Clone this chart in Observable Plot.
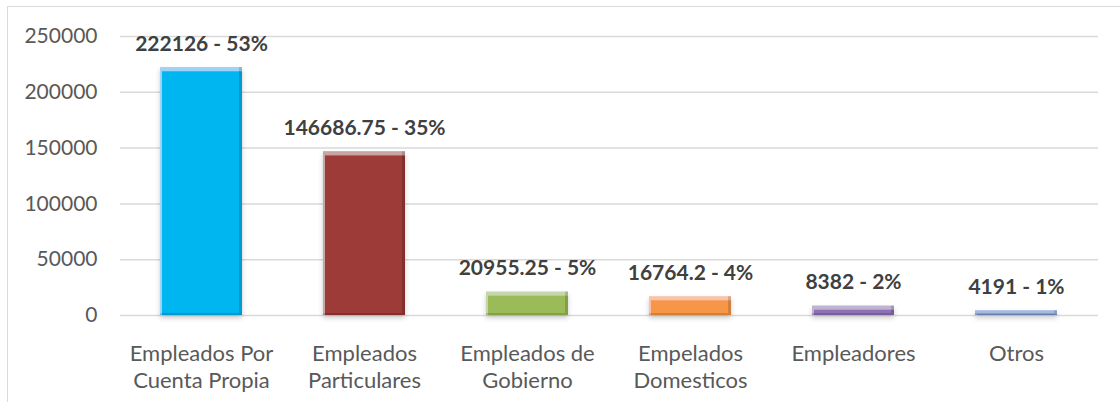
<!DOCTYPE html>
<html><head><meta charset="utf-8">
<script src="https://cdn.jsdelivr.net/npm/d3@7"></script>
<script src="https://cdn.jsdelivr.net/npm/@observablehq/plot@0.6"></script>
<style>
body{margin:0;background:#fff;}
#wrap{position:relative;width:1120px;height:402px;overflow:hidden;}
#frame{position:absolute;left:7px;top:6px;width:1200px;height:500px;border:1.5px solid #d9d9d9;box-sizing:border-box;}
#chart{position:absolute;left:0;top:0;}
</style></head><body>
<div id="wrap"><div id="frame"></div><div id="chart"></div></div>
<script>
const categories = ["Empleados Por\nCuenta Propia","Empleados\nParticulares","Empleados de\nGobierno","Empelados\nDomesticos","Empleadores","Otros"];
const values = [222126, 146686.75, 20955.25, 16764.2, 8382, 4191];
const percents = [53, 35, 5, 4, 2, 1];
const colors = ["#05B6F0", "#9C3B39", "#9BBB59", "#F79646", "#8E70B4", "#4A7EC8"];
const yTicks = [0, 50000, 100000, 150000, 200000, 250000];

const data = categories.map((c, i) => ({category: c, value: values[i], pct: percents[i]}));

const chart = Plot.plot({
  width: 1120, height: 402,
  marginLeft: 120, marginRight: 22, marginTop: 36, marginBottom: 87,
  style: {fontFamily: "Lato, sans-serif", background: "transparent", overflow: "visible"},
  x: {domain: categories, paddingInner: 0.495, paddingOuter: 0.2475, label: null},
  y: {domain: [0, 250000], ticks: yTicks, label: null},
  color: {domain: categories, range: colors},
  marks: [
    Plot.gridY(yTicks, {stroke: "#d9d9d9", strokeOpacity: 1, strokeWidth: 1.5}),
    Plot.axisY(yTicks, {tickSize: 0, tickPadding: 23, fontSize: 21, fill: "#595959", tickFormat: d => String(d), label: null}),
    Plot.axisX({tickSize: 0, tickPadding: 26, fontSize: 22, fill: "#595959", lineHeight: 1.24, label: null}),
    Plot.barY(data, {x: "category", y: "value", fill: "category"}),
    Plot.text(data, {x: "category", y: "value", text: d => `${d.value} - ${d.pct}%`, dy: -17, lineAnchor: "bottom", fontSize: 21, fontWeight: "bold", fill: "#404040"})
  ]
});
document.getElementById("chart").appendChild(chart);

const svg = d3.select(chart);
const defs = svg.insert("defs", ":first-child");
const f = defs.append("filter").attr("id", "bevel").attr("filterUnits", "userSpaceOnUse")
  .attr("x", 0).attr("y", 0).attr("width", 1120).attr("height", 402);
f.append("feGaussianBlur").attr("in", "SourceAlpha").attr("stdDeviation", 2.5).attr("result", "blur");
f.append("feOffset").attr("in", "blur").attr("dx", 0).attr("dy", 3).attr("result", "blurOff");
f.append("feFlood").attr("flood-color", "#000").attr("flood-opacity", 0.2).attr("result", "shc");
f.append("feComposite").attr("in", "shc").attr("in2", "blurOff").attr("operator", "in").attr("result", "drop");
f.append("feOffset").attr("in", "SourceAlpha").attr("dx", 2).attr("dy", 4).attr("result", "offA");
f.append("feComposite").attr("in", "SourceAlpha").attr("in2", "offA").attr("operator", "out").attr("result", "tl");
f.append("feFlood").attr("flood-color", "#fff").attr("flood-opacity", 0.35).attr("result", "white");
f.append("feComposite").attr("in", "white").attr("in2", "tl").attr("operator", "in").attr("result", "hl");
f.append("feOffset").attr("in", "SourceAlpha").attr("dx", -3).attr("dy", -2).attr("result", "offB");
f.append("feComposite").attr("in", "SourceAlpha").attr("in2", "offB").attr("operator", "out").attr("result", "br");
f.append("feFlood").attr("flood-color", "#000").attr("flood-opacity", 0.3).attr("result", "black");
f.append("feComposite").attr("in", "black").attr("in2", "br").attr("operator", "in").attr("result", "sh");
const m = f.append("feMerge");
["drop", "SourceGraphic", "hl", "sh"].forEach(n => m.append("feMergeNode").attr("in", n));
svg.selectAll('g[aria-label="bar"]').attr("filter", "url(#bevel)");
</script>
</body></html>
